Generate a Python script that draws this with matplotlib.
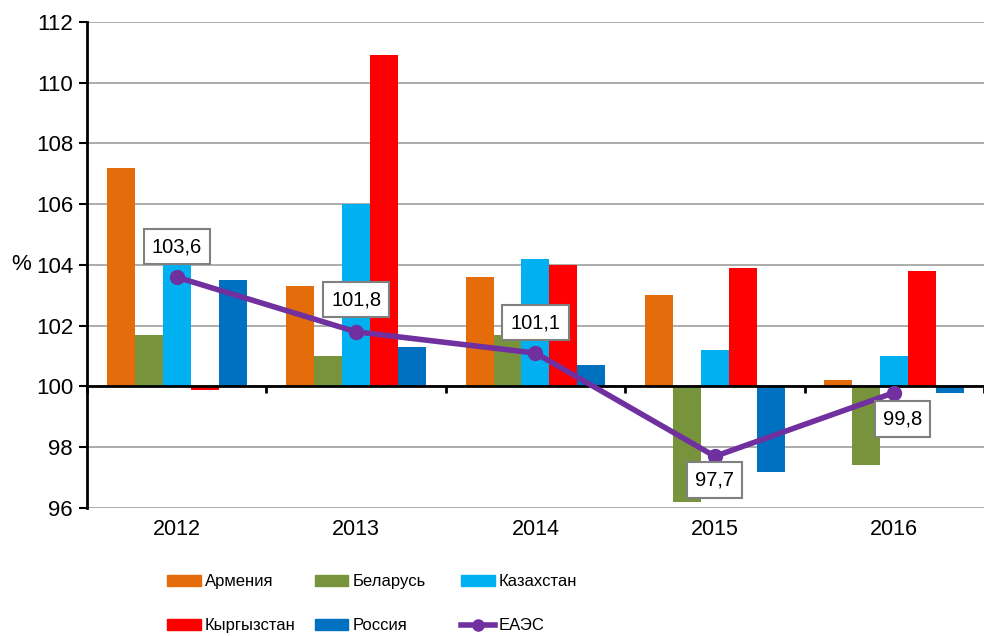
import numpy as np
import matplotlib.pyplot as plt
from matplotlib.lines import Line2D
from matplotlib.patches import Patch

plt.rcParams['font.family'] = ['Liberation Sans', 'DejaVu Sans']

years = ['2012', '2013', '2014', '2015', '2016']
countries = ['Армения', 'Беларусь', 'Казахстан', 'Кыргызстан', 'Россия']
armenia = [107.2, 103.3, 103.6, 103.0, 100.2]
belarus = [101.7, 101.0, 101.7, 96.2, 97.4]
kazakhstan = [104.0, 106.0, 104.2, 101.2, 101.0]
kyrgyzstan = [99.9, 110.9, 104.0, 103.9, 103.8]
russia = [103.5, 101.3, 100.7, 97.2, 99.8]
eaeu = [103.6, 101.8, 101.1, 97.7, 99.8]
eaeu_labels = ['103,6', '101,8', '101,1', '97,7', '99,8']

colors = ['#E46C0A', '#77933C', '#00B0F0', '#FF0000', '#0070C0']
line_color = '#7030A0'

fig = plt.figure(figsize=(9.84, 6.36), dpi=100)
ax = fig.add_axes([0.0884, 0.2013, 0.9116, 0.7641])

x = np.arange(len(years))
bw = 0.156
series = [armenia, belarus, kazakhstan, kyrgyzstan, russia]
for i, (vals, c) in enumerate(zip(series, colors)):
    v = np.array(vals)
    ax.bar(x + (i - 2) * bw, v - 100, bottom=100, width=bw, color=c, zorder=2)

ax.plot(x, eaeu, color=line_color, lw=4, marker='o', ms=10, zorder=4)

offsets = [(0, 22), (0, 23), (0, 22), (0, -17), (6, -19)]
for xi, yi, lab, off in zip(x, eaeu, eaeu_labels, offsets):
    ax.annotate(lab, (xi, yi), xytext=off, textcoords='offset points',
                ha='center', va='center', fontsize=14.5, zorder=5,
                bbox=dict(boxstyle='square,pad=0.4', fc='white', ec='#808080', lw=1.5))

ax.set_xlim(-0.5, 4.5)
ax.set_ylim(96, 112)
ax.set_yticks(np.arange(96, 113, 2))
ax.yaxis.grid(True, color='#A6A6A6', lw=1.3, zorder=0)
ax.set_axisbelow(True)
ax.tick_params(axis='y', labelsize=16, length=6, width=1.5, direction='out', pad=4)

for s in ['top', 'right']:
    ax.spines[s].set_visible(False)
ax.spines['left'].set_linewidth(2)
ax.spines['bottom'].set_position(('data', 100))
ax.spines['bottom'].set_linewidth(2)
ax.spines['bottom'].set_zorder(3)
ax.set_xticks(x)
ax.set_xticklabels([])
ax.tick_params(axis='x', which='major', length=0)
ax.set_xticks(np.arange(-0.5, 5, 1), minor=True)
ax.tick_params(axis='x', which='minor', length=5, width=2, direction='out')

sec = ax.secondary_xaxis('bottom')
sec.set_xticks(x, years)
sec.tick_params(length=0, labelsize=15.5, pad=8)
sec.spines['bottom'].set_visible(False)

ax.text(-0.062, 104, '%', transform=ax.get_yaxis_transform(), ha='right', va='center', fontsize=16)

handles = [Patch(color=c) for c in colors] + [
    Line2D([], [], color=line_color, lw=4, marker='o', ms=8)]
labels = countries + ['ЕАЭС']
cols = [(0, 3), (1, 4), (2, 5)]
col_x = [0.170, 0.320, 0.469]
for (a, b), cx in zip(cols, col_x):
    fig.legend([handles[a], handles[b]], [labels[a], labels[b]], loc='upper left',
               bbox_to_anchor=(cx, 0.097), frameon=False, fontsize=12,
               handlelength=2.0, handleheight=0.65, handletextpad=0.25,
               labelspacing=1.75, borderpad=0, borderaxespad=0)

fig.savefig('out.png', dpi=100)
